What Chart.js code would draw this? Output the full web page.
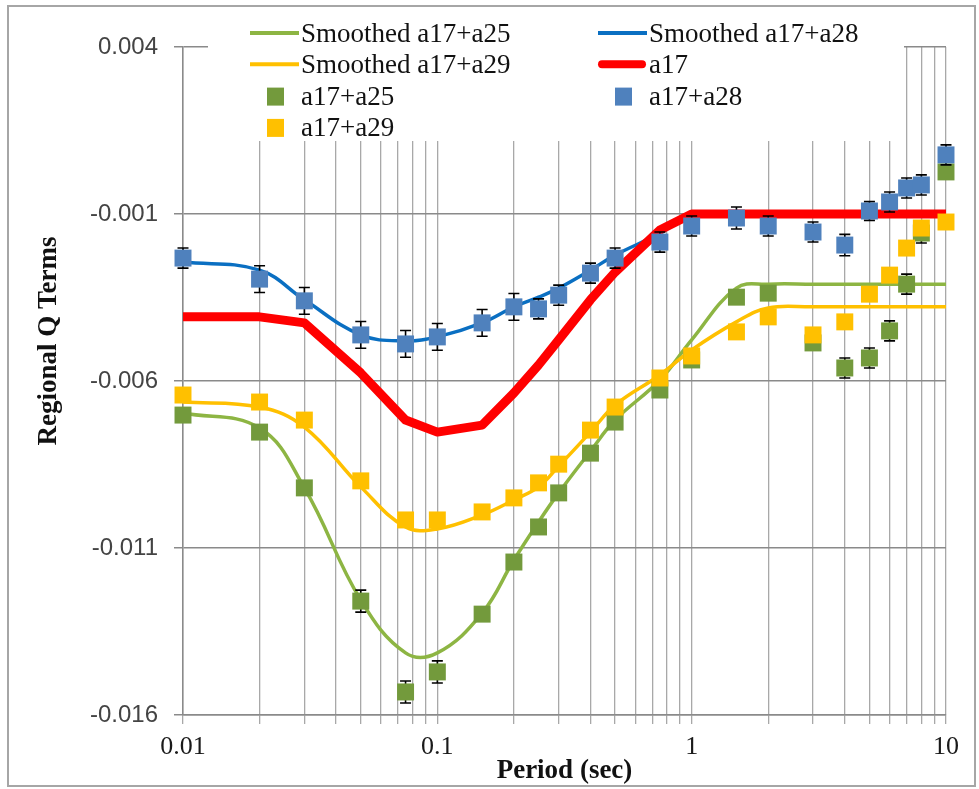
<!DOCTYPE html>
<html>
<head>
<meta charset="utf-8">
<script src="https://cdn.jsdelivr.net/npm/chart.js@4.4.0/dist/chart.umd.min.js"></script>
<style>
  html, body { margin: 0; padding: 0; background: #fff; }
  canvas { display: block; }
</style>
</head>
<body>
<canvas id="chart" width="979" height="789"></canvas>
<script>
// periods (sec)
var periods = [0.01, 0.02, 0.03, 0.05, 0.075, 0.1, 0.15, 0.2, 0.25, 0.3, 0.4, 0.5, 0.75, 1, 1.5, 2, 3, 4, 5, 6, 7, 8, 10];

var yTicks = [-0.016, -0.011, -0.006, -0.001, 0.004];
var xDecades = [0.01, 0.1, 1, 10];
var xTickLabels = ['0.01', '0.1', '1', '10'];

var xTitle = 'Period (sec)';
var yTitle = 'Regional Q Terms';

// smoothed curves
var smooth25 = [-0.00696, -0.00741, -0.00920, -0.01256, -0.01414, -0.01414, -0.01295, -0.01136, -0.01022, -0.00935, -0.00810, -0.00717, -0.00597, -0.00477, -0.00322, -0.00310, -0.00310, -0.00310, -0.00310, -0.00310, -0.00310, -0.00310, -0.00310];
var smooth28 = [-0.00244, -0.00268, -0.00357, -0.00462, -0.00480, -0.00468, -0.00426, -0.00378, -0.00349, -0.00322, -0.00268, -0.00223, -0.00158, -0.00100, -0.00100, -0.00100, -0.00100, -0.00100, -0.00100, -0.00100, -0.00100, -0.00100, -0.00100];
var smooth29 = [-0.00663, -0.00678, -0.00738, -0.00917, -0.01037, -0.01043, -0.01001, -0.00956, -0.00917, -0.00855, -0.00753, -0.00672, -0.00582, -0.00507, -0.00423, -0.00381, -0.00378, -0.00378, -0.00378, -0.00378, -0.00378, -0.00378, -0.00378];
var a17 = [-0.00408, -0.00408, -0.00426, -0.00576, -0.00717, -0.00753, -0.00732, -0.00636, -0.00552, -0.00477, -0.00357, -0.00274, -0.00148, -0.00100, -0.00100, -0.00100, -0.00100, -0.00100, -0.00100, -0.00100, -0.00100, -0.00100, -0.00100];

// estimated terms
var pts25 = [-0.00702, -0.00753, -0.00920, -0.01259, -0.01531, -0.01471, -0.01298, -0.01142, -0.01037, -0.00935, -0.00816, -0.00723, -0.00627, -0.00537, -0.00349, -0.00337, -0.00486, -0.00561, -0.00531, -0.00450, -0.00310, -0.00157, 0.00026];
var pts28 = [-0.00232, -0.00295, -0.00360, -0.00462, -0.00489, -0.00468, -0.00426, -0.00378, -0.00384, -0.00343, -0.00277, -0.00232, -0.00184, -0.00136, -0.00112, -0.00136, -0.00154, -0.00193, -0.00091, -0.00064, -0.00022, -0.00013, 0.00077];
var pts29 = [-0.00642, -0.00663, -0.00717, -0.00899, -0.01016, -0.01016, -0.00992, -0.00950, -0.00905, -0.00849, -0.00747, -0.00678, -0.00591, -0.00525, -0.00453, -0.00408, -0.00462, -0.00423, -0.00340, -0.00283, -0.00202, -0.00142, -0.00124];

// +/- error
var err25 = [0.0002, 0.0002, 0.0002, 0.00033, 0.00033, 0.00033, 0.0002, 0.0002, 0.0002, 0.0002, 0.0002, 0.0002, 0.0002, 0.0002, 0.0002, 0.0002, 0.0002, 0.0003, 0.0003, 0.0003, 0.0003, 0.0003, 0.0002];
var err28 = [0.0003, 0.0004, 0.0004, 0.0004, 0.0004, 0.0004, 0.0004, 0.0004, 0.0003, 0.0003, 0.0003, 0.0003, 0.0003, 0.0003, 0.00033, 0.0003, 0.0003, 0.00032, 0.00028, 0.0003, 0.0003, 0.0003, 0.0003];

function pairs(values) {
	return values.map((v, i) => ({ x: periods[i], y: v }));
}

function lineSet(label, values, color, width, order, smooth) {
	return {
		label: label,
		data: pairs(values),
		borderColor: color,
		backgroundColor: color,
		borderWidth: width,
		pointRadius: 0,
		tension: smooth ? 0.4 : 0,
		borderJoinStyle: 'round',
		fill: false,
		clip: false,
		order: order
	};
}

function pointSet(label, values, color, order, errors) {
	return {
		label: label,
		data: pairs(values),
		showLine: false,
		pointStyle: 'rect',
		pointRadius: 12,
		borderWidth: 0,
		backgroundColor: color,
		borderColor: color,
		errors: errors,
		clip: false,
		order: order
	};
}

var datasets = [
	lineSet('Smoothed a17+a25', smooth25, '#8db543', 3.5, 7, true),
	lineSet('Smoothed a17+a28', smooth28, '#0a6fc2', 3.5, 6, true),
	lineSet('Smoothed a17+a29', smooth29, '#ffc000', 3.5, 5, true),
	lineSet('a17', a17, '#ff0000', 9, 4, false),
	pointSet('a17+a25', pts25, '#739a3c', 3, err25),
	pointSet('a17+a28', pts28, '#4f81bd', 1, err28),
	pointSet('a17+a29', pts29, '#ffc000', 2, null)
];

// error bars under each marker set
var errorBars = {
	id: 'errorBars',
	beforeDatasetDraw(chart, args) {
		var ds = chart.data.datasets[args.index];
		if (!ds.errors) return;
		var ctx = chart.ctx;
		var xs = chart.scales.x, ys = chart.scales.y;
		ctx.save();
		ctx.strokeStyle = '#000';
		ctx.lineWidth = 1.6;
		ds.data.forEach((p, i) => {
			var e = ds.errors[i];
			var px = xs.getPixelForValue(p.x);
			var top = ys.getPixelForValue(p.y + e);
			var bot = ys.getPixelForValue(p.y - e);
			ctx.beginPath();
			ctx.moveTo(px, top); ctx.lineTo(px, bot);
			ctx.moveTo(px - 5.5, top); ctx.lineTo(px + 5.5, top);
			ctx.moveTo(px - 5.5, bot); ctx.lineTo(px + 5.5, bot);
			ctx.stroke();
		});
		ctx.restore();
	}
};

// frame, legend box and axis titles
var decor = {
	id: 'decor',
	beforeDraw(chart) {
		var ctx = chart.ctx;
		ctx.save();
		ctx.fillStyle = '#fff';
		ctx.fillRect(0, 0, chart.width, chart.height);
		ctx.strokeStyle = '#a6a6a6';
		ctx.lineWidth = 2;
		ctx.strokeRect(8, 6, 967, 780);
		ctx.restore();
	},
	beforeDatasetsDraw(chart) {
		var ctx = chart.ctx;
		ctx.save();
		ctx.fillStyle = '#fff';
		ctx.fillRect(208, 9, 696, 132);
		var colX = [250, 598];
		ctx.font = '27px "Liberation Serif", "Times New Roman", serif';
		ctx.textBaseline = 'middle';
		chart.data.datasets.forEach((ds, i) => {
			var x = colX[i % 2];
			var y = 34 + Math.floor(i / 2) * 31.3;
			if (ds.showLine === false) {
				ctx.fillStyle = ds.backgroundColor;
				ctx.fillRect(x + 17, y - 9, 17, 18);
			} else {
				ctx.strokeStyle = ds.borderColor;
				ctx.lineWidth = ds.borderWidth > 5 ? 8 : 4;
				ctx.lineCap = ds.borderWidth > 5 ? 'round' : 'butt';
				ctx.beginPath();
				ctx.moveTo(x + (ds.borderWidth > 5 ? 4 : 0), y - 1);
				ctx.lineTo(x + (ds.borderWidth > 5 ? 44 : 49), y - 1);
				ctx.stroke();
			}
			ctx.fillStyle = '#111';
			ctx.fillText(ds.label, x + 51, y + 1);
		});
		ctx.restore();
	},
	afterDraw(chart) {
		var ctx = chart.ctx;
		var a = chart.chartArea;
		ctx.save();
		ctx.fillStyle = '#111';
		ctx.font = 'bold 27px "Liberation Serif", "Times New Roman", serif';
		ctx.textAlign = 'center';
		ctx.textBaseline = 'middle';
		ctx.fillText(xTitle, (a.left + a.right) / 2, 771);
		ctx.translate(49, a.top + (a.bottom - a.top) * 0.44);
		ctx.rotate(-Math.PI / 2);
		ctx.fillText(yTitle, 0, 0);
		ctx.restore();
	}
};

var xGrid = [];
[0.01, 0.1, 1].forEach(d => {
	for (var k = 1; k <= 9; k++) xGrid.push(d * k);
});
xGrid.push(10);

new Chart(document.getElementById('chart').getContext('2d'), {
	type: 'line',
	data: { datasets: datasets },
	options: {
		responsive: false,
		animation: false,
		devicePixelRatio: 1,
		events: [],
		layout: { padding: { left: 0, right: 33, top: 47, bottom: 0 } },
		plugins: {
			legend: { display: false },
			tooltip: { enabled: false }
		},
		scales: {
			x: {
				type: 'logarithmic',
				min: 0.01,
				max: 10,
				afterBuildTicks: s => { s.ticks = xGrid.map(v => ({ value: v })); },
				afterFit: s => { s.height = 74; },
				grid: { color: '#a8a8a8', lineWidth: 1.3, tickLength: 9, tickColor: '#a8a8a8' },
				border: { color: '#8a8a8a', width: 1.5 },
				ticks: {
					autoSkip: false,
					maxRotation: 0,
					padding: 8,
					color: '#1a1a1a',
					font: { family: '"Liberation Serif", "Times New Roman", serif', size: 26 },
					callback: function (value) {
						var i = xDecades.findIndex(d => Math.abs(d - value) < d * 1e-6);
						return i >= 0 ? xTickLabels[i] : '';
					}
				}
			},
			y: {
				type: 'linear',
				min: -0.016,
				max: 0.004,
				afterBuildTicks: s => { s.ticks = yTicks.map(v => ({ value: v })); },
				afterFit: s => { s.width = 183; },
				grid: { color: '#8a8a8a', lineWidth: 1.5, tickLength: 9, tickColor: '#8a8a8a' },
				border: { color: '#8a8a8a', width: 1.5 },
				ticks: {
					padding: 16,
					color: '#444',
					font: { family: '"Liberation Sans", Arial, sans-serif', size: 24 },
					callback: v => v.toFixed(3)
				}
			}
		}
	},
	plugins: [errorBars, decor]
});
</script>
</body>
</html>
